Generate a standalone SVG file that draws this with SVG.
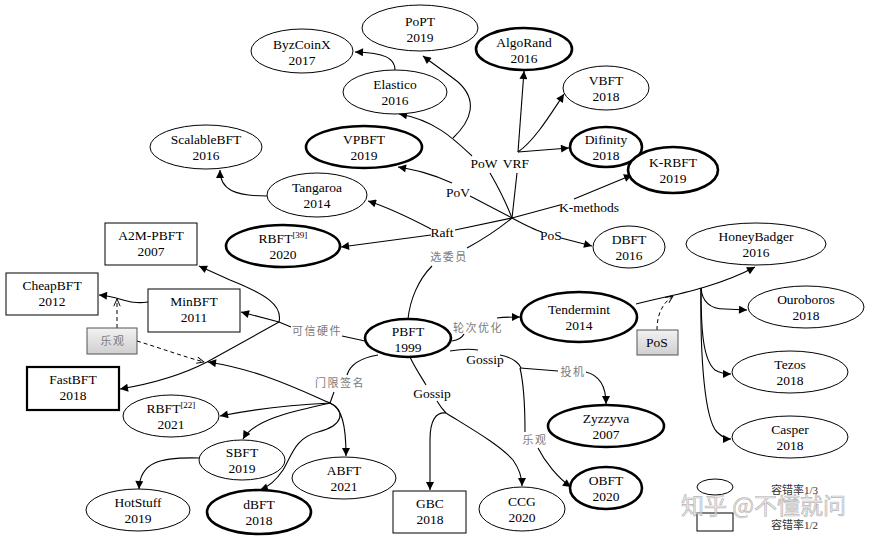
<svg xmlns="http://www.w3.org/2000/svg" width="877" height="540" viewBox="0 0 877 540" font-family="Liberation Serif, Times New Roman, serif">
<defs>
<style>
.n{fill:#fff;stroke:#000;stroke-width:1}
.b{fill:#fff;stroke:#000;stroke-width:2.6}
.g{fill:url(#gr);stroke:#555;stroke-width:1}
.t{font-size:13.5px;text-anchor:middle;fill:#000}
.l{font-size:11px;fill:#7a7a7a;letter-spacing:1.5px;text-anchor:middle}
.c{fill:none;stroke:#000;stroke-width:1.1}
.ca{fill:none;stroke:#000;stroke-width:1.1;marker-end:url(#a)}
.d{fill:none;stroke:#000;stroke-width:1;stroke-dasharray:4 3;marker-end:url(#o)}
</style>
<linearGradient id="gr" x1="0" y1="0" x2="0" y2="1"><stop offset="0" stop-color="#f2f2f2"/><stop offset="1" stop-color="#cfcfcf"/></linearGradient>
<marker id="a" viewBox="0 0 10 10" refX="10" refY="5" markerWidth="10" markerHeight="8" orient="auto" markerUnits="userSpaceOnUse"><path d="M0,0 L10,5 L0,10 z" fill="#000"/></marker>
<marker id="o" viewBox="0 0 10 10" refX="10" refY="5" markerWidth="9" markerHeight="8" orient="auto" markerUnits="userSpaceOnUse"><path d="M1,1 L10,5 L1,9" fill="none" stroke="#000" stroke-width="1.2"/></marker>
</defs>
<rect width="877" height="540" fill="#fff"/>

<g id="connectors">
<path class="c" d="M512,218 C505,200 497,185 490,173"/>
<path class="ca" d="M472,156 C455,140 435,120 399,114"/>
<path class="ca" d="M453,138 C472,120 478,100 458,82 C445,72 432,63 423,56"/>
<path class="ca" d="M395,70 C395,58 385,53 355,52"/>
<path class="c" d="M512,218 L517,173"/>
<path class="ca" d="M518,152 L524,71"/>
<path class="ca" d="M518,152 C535,140 550,115 564,94"/>
<path class="ca" d="M518,152 L569,148"/>
<path class="c" d="M512,218 L560,205"/>
<path class="ca" d="M574,199 L632,175"/>
<path class="c" d="M512,218 C525,225 535,230 542,232"/>
<path class="ca" d="M561,238 L592,246"/>
<path class="c" d="M512,218 L470,196"/>
<path class="ca" d="M452,183 C430,173 415,170 398,167"/>
<path class="c" d="M512,218 L455,230"/>
<path class="ca" d="M431,229 C410,218 390,208 368,201"/>
<path class="ca" d="M431,235 L341,247"/>
<path class="ca" d="M267,196 C235,196 220,190 220,170"/>
<path class="c" d="M512,218 C495,232 478,242 467,248"/>
<path class="c" d="M432,266 C418,280 410,300 408,319"/>
<path class="c" d="M365,341 L342,336"/>
<path class="c" d="M291,327 L279,322"/>
<path class="ca" d="M279,322 L241,312"/>
<path class="ca" d="M279,322 C283,305 265,294 230,280 L199,266"/>
<path class="ca" d="M279,322 C250,338 225,352 207,362 C180,376 150,384 120,389"/>
<path class="ca" d="M148,302 C128,305 122,297 99,295"/>
<path class="d" d="M117,328 L117,299"/>
<path class="d" d="M137,341 C160,348 185,357 204,362"/>
<path class="c" d="M378,355 C360,358 350,365 347,375"/>
<path class="c" d="M334,392 L330,403"/>
<path class="ca" d="M330,403 C290,405 250,410 220,416"/>
<path class="ca" d="M330,403 C300,410 255,418 243,439"/>
<path class="ca" d="M330,403 C342,408 346,425 346,456"/>
<path class="ca" d="M330,403 C345,410 345,425 318,432 C295,438 292,455 283,470 C275,482 268,487 260,490"/>
<path class="ca" d="M330,403 C300,390 260,370 208,362"/>
<path class="ca" d="M199,458 C160,457 140,462 139,489"/>
<path class="c" d="M410,357 C415,368 422,378 426,385"/>
<path class="c" d="M437,401 C440,406 443,410 446,413"/>
<path class="ca" d="M446,413 C436,412 430,420 430,440 L430,490"/>
<path class="ca" d="M446,413 C470,428 500,445 513,460 C520,470 522,478 522,486"/>
<path class="c" d="M450,351 C462,349 472,349 478,350"/>
<path class="c" d="M500,355 C515,358 520,365 521,368"/>
<path class="c" d="M520,368 L558,371"/>
<path class="ca" d="M586,372 C598,375 606,385 606,404"/>
<path class="c" d="M520,368 C524,385 525,410 525,432"/>
<path class="ca" d="M538,448 C545,462 558,478 571,487"/>
<path class="c" d="M452,341 C458,340 462,338 464,334"/>
<path class="ca" d="M497,318 C505,317 512,317 520,317"/>
<path class="ca" d="M636,304 C660,298 690,292 705,287 C725,281 742,274 755,267"/>
<path class="ca" d="M701,288 C702,300 708,309 725,309 L747,310"/>
<path class="ca" d="M701,288 C701,330 703,360 715,370 C720,373 725,374 731,374"/>
<path class="ca" d="M701,288 C700,360 705,420 717,432 C722,437 726,439 731,439"/>
<path class="d" d="M657,330 C657,318 660,305 673,296"/>
</g>

<g id="edge-labels">
<text class="t" x="484" y="168">PoW</text>
<text class="t" x="516" y="168">VRF</text>
<text class="t" x="458" y="197">PoV</text>
<text class="t" x="442" y="237">Raft</text>
<text class="t" x="589" y="212">K-methods</text>
<text class="t" x="551" y="240">PoS</text>
<text class="t" x="432" y="398">Gossip</text>
<text class="t" x="485" y="364">Gossip</text>
<g font-family="Noto Sans CJK SC, sans-serif">
<text class="l" x="449" y="261">选委员</text>
<text class="l" x="317" y="335">可信硬件</text>
<text class="l" x="340" y="387">门限签名</text>
<text class="l" x="478" y="332">轮次优化</text>
<text class="l" x="573" y="376">投机</text>
<text class="l" x="535" y="444">乐观</text>
</g>
</g>

<g id="PoPT"><ellipse class="n" cx="420" cy="28" rx="58" ry="23"/><text class="t" x="420" y="26">PoPT</text><text class="t" x="420" y="42">2019</text></g>
<g id="ByzCoinX"><ellipse class="n" cx="302" cy="51" rx="51" ry="22"/><text class="t" x="302" y="49">ByzCoinX</text><text class="t" x="302" y="65">2017</text></g>
<g id="AlgoRand"><ellipse class="b" cx="524" cy="49" rx="48" ry="21"/><text class="t" x="524" y="47">AlgoRand</text><text class="t" x="524" y="63">2016</text></g>
<g id="Elastico"><ellipse class="n" cx="395" cy="92" rx="52" ry="22"/><text class="t" x="395" y="89">Elastico</text><text class="t" x="395" y="105">2016</text></g>
<g id="VPBFT"><ellipse class="b" cx="364" cy="147" rx="58" ry="21"/><text class="t" x="364" y="144">VPBFT</text><text class="t" x="364" y="160">2019</text></g>
<g id="ScalableBFT"><ellipse class="n" cx="206" cy="147" rx="56" ry="22"/><text class="t" x="206" y="144">ScalableBFT</text><text class="t" x="206" y="160">2016</text></g>
<g id="VBFT"><ellipse class="n" cx="606" cy="88" rx="43" ry="22"/><text class="t" x="606" y="85">VBFT</text><text class="t" x="606" y="101">2018</text></g>
<g id="Difinity"><ellipse class="b" cx="606" cy="147" rx="36" ry="20"/><text class="t" x="606" y="144">Difinity</text><text class="t" x="606" y="160">2018</text></g>
<g id="K-RBFT"><ellipse class="b" cx="673" cy="170" rx="45" ry="23"/><text class="t" x="673" y="167">K-RBFT</text><text class="t" x="673" y="183">2019</text></g>
<g id="DBFT"><ellipse class="n" cx="629" cy="247" rx="36" ry="21"/><text class="t" x="629" y="244">DBFT</text><text class="t" x="629" y="260">2016</text></g>
<g id="Tangaroa"><ellipse class="n" cx="317" cy="195" rx="50" ry="22"/><text class="t" x="317" y="192">Tangaroa</text><text class="t" x="317" y="208">2014</text></g>
<g id="RBFT39"><ellipse class="b" cx="283" cy="246" rx="57" ry="21"/><text class="t" x="283" y="243">RBFT<tspan font-size="9" dy="-5">[39]</tspan></text><text class="t" x="283" y="259">2020</text></g>
<g id="A2M-PBFT"><rect class="n" x="105" y="223" width="92" height="42"/><text class="t" x="151" y="240">A2M-PBFT</text><text class="t" x="151" y="256">2007</text></g>
<g id="CheapBFT"><rect class="n" x="6" y="273" width="92" height="42"/><text class="t" x="52" y="290">CheapBFT</text><text class="t" x="52" y="306">2012</text></g>
<g id="MinBFT"><rect class="n" x="148" y="289" width="92" height="43"/><text class="t" x="194" y="306">MinBFT</text><text class="t" x="194" y="322">2011</text></g>
<g id="optimistic-box"><rect class="g" x="87" y="328" width="50" height="26"/><text class="l" x="113" y="345" font-family="Noto Sans CJK SC, sans-serif">乐观</text></g>
<g id="FastBFT"><rect fill="#fff" stroke="#000" stroke-width="2.2" x="27" y="367" width="92" height="43"/><text class="t" x="73" y="384">FastBFT</text><text class="t" x="73" y="400">2018</text></g>
<g id="PBFT"><ellipse class="b" cx="408" cy="338" rx="43" ry="19"/><text class="t" x="408" y="336">PBFT</text><text class="t" x="408" y="352">1999</text></g>
<g id="Tendermint"><ellipse class="b" cx="579" cy="317" rx="58" ry="25"/><text class="t" x="579" y="314">Tendermint</text><text class="t" x="579" y="330">2014</text></g>
<g id="HoneyBadger"><ellipse class="n" cx="756" cy="244" rx="70" ry="21"/><text class="t" x="756" y="241">HoneyBadger</text><text class="t" x="756" y="257">2016</text></g>
<g id="Ouroboros"><ellipse class="n" cx="806" cy="307" rx="58" ry="21"/><text class="t" x="806" y="304">Ouroboros</text><text class="t" x="806" y="320">2018</text></g>
<g id="Tezos"><ellipse class="n" cx="790" cy="372" rx="58" ry="21"/><text class="t" x="790" y="369">Tezos</text><text class="t" x="790" y="385">2018</text></g>
<g id="Casper"><ellipse class="n" cx="790" cy="437" rx="58" ry="21"/><text class="t" x="790" y="434">Casper</text><text class="t" x="790" y="450">2018</text></g>
<g id="PoS-box"><rect class="g" x="637" y="330" width="41" height="25"/><text class="t" x="657" y="347">PoS</text></g>
<g id="Zyzzyva"><ellipse class="b" cx="606" cy="426" rx="58" ry="21"/><text class="t" x="606" y="423">Zyzzyva</text><text class="t" x="606" y="439">2007</text></g>
<g id="OBFT"><ellipse class="b" cx="606" cy="488" rx="36" ry="21"/><text class="t" x="606" y="485">OBFT</text><text class="t" x="606" y="501">2020</text></g>
<g id="CCG"><ellipse class="n" cx="522" cy="509" rx="43" ry="22"/><text class="t" x="522" y="506">CCG</text><text class="t" x="522" y="522">2020</text></g>
<g id="GBC"><rect class="n" x="393" y="491" width="73" height="42"/><text class="t" x="430" y="508">GBC</text><text class="t" x="430" y="524">2018</text></g>
<g id="ABFT"><ellipse class="n" cx="344" cy="478" rx="52" ry="21"/><text class="t" x="344" y="475">ABFT</text><text class="t" x="344" y="491">2021</text></g>
<g id="dBFT"><ellipse class="b" cx="259" cy="512" rx="52" ry="22"/><text class="t" x="259" y="509">dBFT</text><text class="t" x="259" y="525">2018</text></g>
<g id="SBFT"><ellipse class="n" cx="242" cy="460" rx="43" ry="20"/><text class="t" x="242" y="457">SBFT</text><text class="t" x="242" y="473">2019</text></g>
<g id="HotStuff"><ellipse class="n" cx="138" cy="510" rx="52" ry="21"/><text class="t" x="138" y="507">HotStuff</text><text class="t" x="138" y="523">2019</text></g>
<g id="RBFT22"><ellipse class="n" cx="171" cy="416" rx="48" ry="21"/><text class="t" x="171" y="413">RBFT<tspan font-size="9" dy="-5">[22]</tspan></text><text class="t" x="171" y="429">2021</text></g>

<g id="legend">
<ellipse class="n" cx="715" cy="487" rx="18" ry="8"/>
<rect class="n" x="697" y="513" width="36" height="18"/>
<text x="771" y="494" font-family="Liberation Serif, Noto Sans CJK SC, serif" font-size="11" fill="#333">容错率1/3</text>
<text x="771" y="529" font-family="Liberation Serif, Noto Sans CJK SC, serif" font-size="11" fill="#333">容错率1/2</text>
</g>
<g id="watermark"><text x="681" y="514" font-family="Noto Sans CJK SC, sans-serif" font-size="23" fill="#e6e6e6" fill-opacity="0.7" stroke="#9a9a9a" stroke-width="0.7" stroke-opacity="0.7">知乎 @不懂就问</text></g>
</svg>
